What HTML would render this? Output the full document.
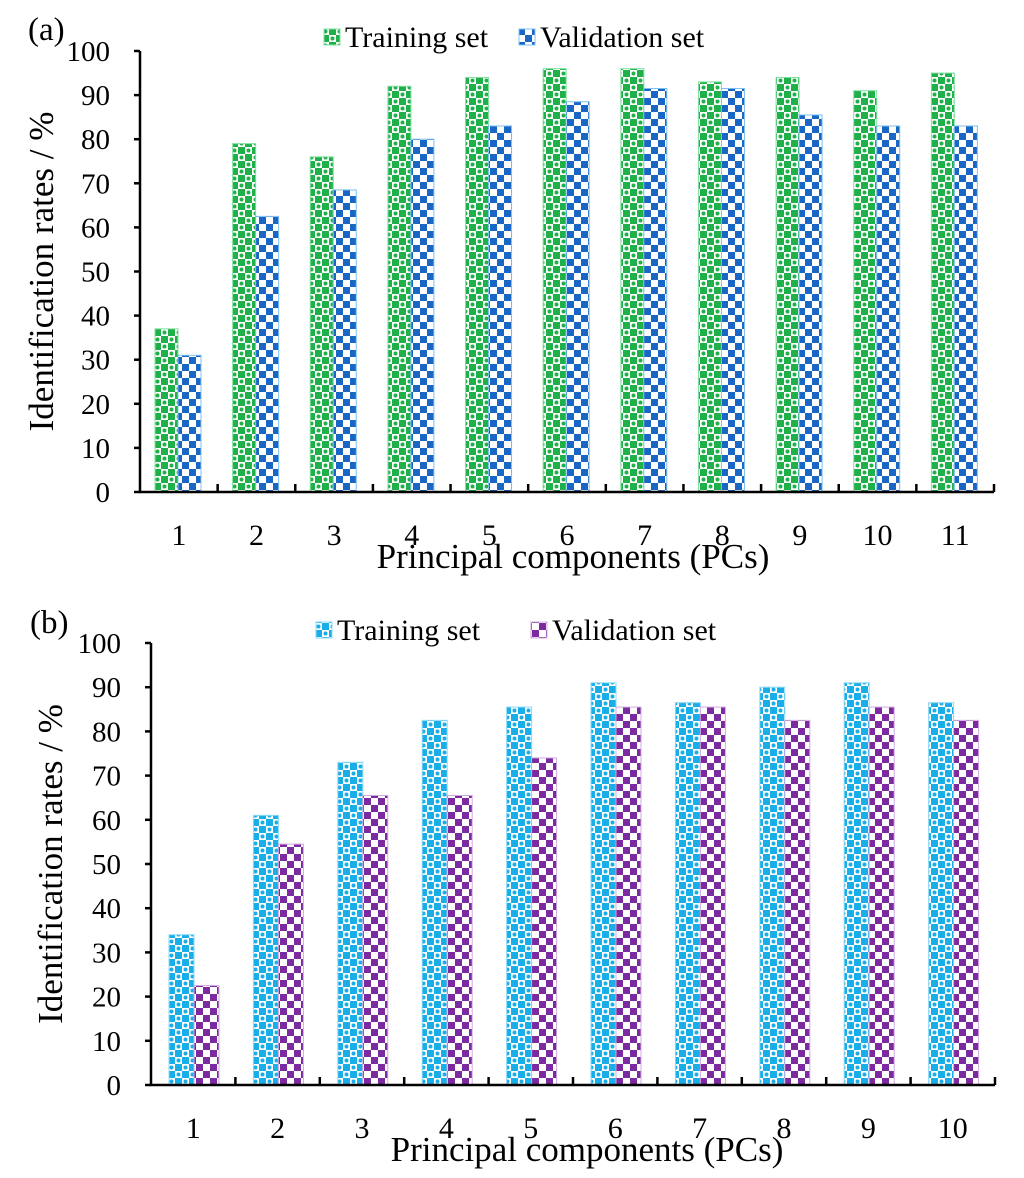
<!DOCTYPE html>
<html><head><meta charset="utf-8"><style>
html,body{margin:0;padding:0;background:#fff}
svg{display:block;font-family:"Liberation Serif",serif}
</style></head><body>
<svg id="chart" width="1024" height="1178" viewBox="0 0 1024 1178" xmlns="http://www.w3.org/2000/svg">
<defs>
<pattern id="pGreen" width="14" height="14" patternUnits="userSpaceOnUse">
<rect width="14" height="14" fill="#20b04a"/>
<rect x="0" y="0" width="7" height="7" fill="#fff"/><rect x="7" y="7" width="7" height="7" fill="#fff"/>
<circle cx="3.5" cy="3.5" r="2" fill="#20b04a"/><circle cx="10.5" cy="10.5" r="2" fill="#20b04a"/>
</pattern>
<pattern id="pBlue" width="14" height="14" patternUnits="userSpaceOnUse">
<rect width="14" height="14" fill="#fff"/>
<rect x="0" y="0" width="7" height="7" fill="#1a66c4"/><rect x="7" y="7" width="7" height="7" fill="#1a66c4"/>
</pattern>
<pattern id="pCyan" width="14" height="14" patternUnits="userSpaceOnUse">
<rect width="14" height="14" fill="#1aaee8"/>
<rect x="0" y="0" width="7" height="7" fill="#fff"/><rect x="7" y="7" width="7" height="7" fill="#fff"/>
<circle cx="3.5" cy="3.5" r="2" fill="#1aaee8"/><circle cx="10.5" cy="10.5" r="2" fill="#1aaee8"/>
</pattern>
<pattern id="pPurple" width="14" height="14" patternUnits="userSpaceOnUse">
<rect width="14" height="14" fill="#fff"/>
<rect x="0" y="0" width="7" height="7" fill="#7b2aa0"/><rect x="7" y="7" width="7" height="7" fill="#7b2aa0"/>
</pattern>
</defs>
</svg>
<script>
const catsA = ["1","2","3","4","5","6","7","8","9","10","11"];
const trainA = [37,79,76,92,94,96,96,93,94,91,95];
const validA = [31,62.5,68.5,80,83,88.5,91.5,91.5,85.5,83,83];
const catsB = ["1","2","3","4","5","6","7","8","9","10"];
const trainB = [34,61,73,82.5,85.5,91,86.5,90,91,86.5];
const validB = [22.5,54.5,65.5,65.5,74,85.5,85.5,82.5,85.5,82.5];
const yTicks = [0,10,20,30,40,50,60,70,80,90,100];

const svg = document.getElementById('chart');
const NS = 'http://www.w3.org/2000/svg';
function mk(tag, attrs, parent){const e=document.createElementNS(NS,tag);for(const k in attrs)e.setAttribute(k,attrs[k]);(parent||svg).appendChild(e);return e;}

function drawChart(cfg){
  const g = mk('g',{});
  
  
  const x0=cfg.x0, x1=cfg.x1, yTop=cfg.yTop, yBot=cfg.yBot;
  const yS = v => yBot - (v/100)*(yBot-yTop);
  const n = cfg.cats.length, cw = (x1-x0)/n;
  const xS = i => x0 + i*cw;
  cfg.cats.forEach((c,i)=>{
    const bx = xS(i)+cfg.off;
    const r1 = mk('rect',{x:bx,y:yS(cfg.train[i]),width:cfg.bw,height:yBot-yS(cfg.train[i]),fill:'url(#'+cfg.p1+')',stroke:cfg.s1,'stroke-width':1},g);
    
    
    const r2 = mk('rect',{x:bx+cfg.bw,y:yS(cfg.valid[i]),width:cfg.bw,height:yBot-yS(cfg.valid[i]),fill:'url(#'+cfg.p2+')',stroke:cfg.s2,'stroke-width':1},g);
    
    
    const t = mk('text',{x:xS(i)+cw/2,y:yBot+53,'text-anchor':'middle','font-size':30},g);
    t.textContent=c;
    
    
  });
  const ax = mk('path',{d:`M${x0},${yTop} V${yBot} H${x1}`,stroke:'#000','stroke-width':2.5,fill:'none'},g);
  
  
  yTicks.forEach(v=>{
    mk('line',{x1:x0-6,x2:x0,y1:yS(v),y2:yS(v),stroke:'#000','stroke-width':2.5},g);
    const t = mk('text',{x:cfg.x0-30,y:yS(v)+10,'text-anchor':'end','font-size':29},g);
    t.textContent=v;
    
    
  });
  for(let i=1;i<=n;i++) mk('line',{x1:xS(i),x2:xS(i),y1:yBot,y2:yBot-8,stroke:'#000','stroke-width':2.5},g);
  const yl = mk('text',{x:0,y:0,'text-anchor':'middle','font-size':35,transform:`translate(${cfg.ylx},${(yTop+yBot)/2}) rotate(-90)`},g);
  yl.textContent='Identification rates / %';
  
  
  const xl = mk('text',{x:cfg.xlx,y:yBot+76,'text-anchor':'middle','font-size':35},g);
  xl.textContent='Principal components (PCs)';
  
  
  const pl = mk('text',{x:cfg.plx,y:cfg.ply,'font-size':33},g);
  pl.textContent=cfg.panel;
  
  
  const l1 = mk('rect',{x:cfg.lg1,y:cfg.lgy-15,width:16,height:16,fill:'url(#'+cfg.p1+')',stroke:cfg.s1},g);
  
  
  const lt1 = mk('text',{x:cfg.lg1+21,y:cfg.lgy+3,'font-size':30},g);
  lt1.textContent='Training set';
  
  
  const l2 = mk('rect',{x:cfg.lg2,y:cfg.lgy-15,width:16,height:16,fill:'url(#'+cfg.p2+')',stroke:cfg.s2},g);
  
  
  const lt2 = mk('text',{x:cfg.lg2+21,y:cfg.lgy+3,'font-size':30},g);
  lt2.textContent='Validation set';
  
  
}
drawChart({name:'chart-a',cats:catsA,train:trainA,valid:validA,x0:140,x1:994,yTop:51,yBot:492,off:15,bw:23,p1:'pGreen',p2:'pBlue',s1:'#7fe0a0',s2:'#7cc0f0',ylx:53,xlx:573,plx:28,ply:40,lg1:324,lg2:519,lgy:44,panel:'(a)'});
drawChart({name:'chart-b',cats:catsB,train:trainB,valid:validB,x0:151,x1:995,yTop:643,yBot:1085,off:18,bw:25,p1:'pCyan',p2:'pPurple',s1:'#8ad8f5',s2:'#d0a8e0',ylx:62,xlx:587,plx:30,ply:633,lg1:316,lg2:531,lgy:637,panel:'(b)'});
</script>
</body></html>
